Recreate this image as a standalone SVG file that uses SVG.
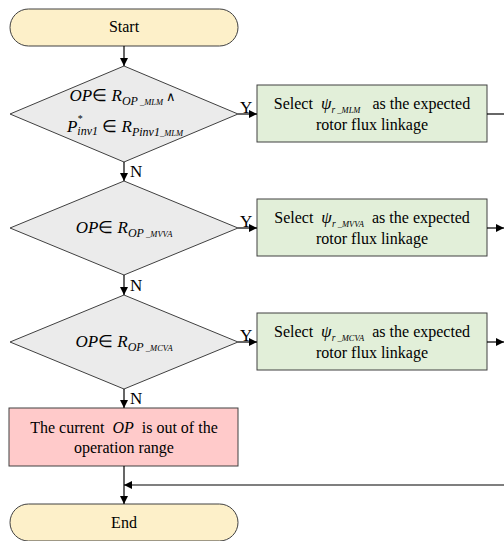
<svg xmlns="http://www.w3.org/2000/svg" width="504" height="541" viewBox="0 0 504 541">
<defs>
<style>
.t{font-family:"Liberation Serif","Times New Roman",serif;font-size:16px;fill:#000;text-anchor:middle}
.m{font-family:"Liberation Serif","Times New Roman",serif;font-size:17px;fill:#000;text-anchor:middle}
.i{font-style:italic}
.s{font-size:12px;font-style:italic}
.ss{font-size:8.5px;font-style:italic}
.sb{font-size:9.5px;font-style:italic}
.term{fill:#fdf0c9;stroke:#404040;stroke-width:1}
.dec{fill:#ebebeb;stroke:#404040;stroke-width:1}
.proc{fill:#e2efd9;stroke:#404040;stroke-width:1}
.err{fill:#ffcaca;stroke:#404040;stroke-width:1}
.c{fill:none;stroke:#000;stroke-width:1.2}
.lbl{font-family:"Liberation Serif","Times New Roman",serif;font-size:17px;fill:#000}
</style>
<marker id="ah" viewBox="0 0 10 10" refX="10" refY="5" markerWidth="8" markerHeight="8" markerUnits="userSpaceOnUse" orient="auto">
<path d="M0,0 L10,5 L0,10 z" fill="#000"/>
</marker>
</defs>

<g id="start">
<rect class="term" x="10" y="9" width="228" height="37" rx="18.5"/>
<text class="t" x="124" y="32">Start</text>
</g>

<g id="d1">
<polygon class="dec" points="124,66 238,114 124,162 10,114"/>
<text class="m" x="123" y="101"><tspan class="i">OP</tspan>∈ <tspan class="i">R</tspan><tspan class="s" dy="4">OP</tspan><tspan class="ss"> _MLM</tspan><tspan dy="-4" style="font-size:13px"> ∧</tspan></text>
<text class="m" x="125" y="132"><tspan class="i">P</tspan><tspan class="i" style="font-size:10px" dy="-10">*</tspan><tspan class="s" dy="13" dx="-5">inv1</tspan><tspan dy="-3"> ∈ </tspan><tspan class="i">R</tspan><tspan class="s" dy="4">Pinv1</tspan><tspan class="ss">_MLM</tspan></text>
</g>

<g id="p1">
<rect class="proc" x="257" y="85" width="230" height="57"/>
<text class="t" x="372" y="109">Select&#160;&#160;<tspan class="i" style="font-size:17px">ψ</tspan><tspan class="sb" dy="4">r</tspan><tspan class="ss"> _MLM</tspan><tspan dy="-4">&#160;&#160;&#160;as the expected</tspan></text>
<text class="t" x="372" y="130">rotor flux linkage</text>
</g>

<g id="d2">
<polygon class="dec" points="124,181 238,228 124,275 10,228"/>
<text class="m" x="124" y="233"><tspan class="i">OP</tspan>∈ <tspan class="i">R</tspan><tspan class="s" dy="4">OP</tspan><tspan class="ss"> _MVVA</tspan></text>
</g>

<g id="p2">
<rect class="proc" x="257" y="199" width="230" height="57"/>
<text class="t" x="372" y="223">Select&#160;&#160;<tspan class="i" style="font-size:17px">ψ</tspan><tspan class="sb" dy="4">r</tspan><tspan class="ss"> _MVVA</tspan><tspan dy="-4">&#160;&#160;as the expected</tspan></text>
<text class="t" x="372" y="244">rotor flux linkage</text>
</g>

<g id="d3">
<polygon class="dec" points="124,295 238,342 124,389 10,342"/>
<text class="m" x="124" y="347"><tspan class="i">OP</tspan>∈ <tspan class="i">R</tspan><tspan class="s" dy="4">OP</tspan><tspan class="ss"> _MCVA</tspan></text>
</g>

<g id="p3">
<rect class="proc" x="257" y="313" width="230" height="57"/>
<text class="t" x="372" y="337">Select&#160;&#160;<tspan class="i" style="font-size:17px">ψ</tspan><tspan class="sb" dy="4">r</tspan><tspan class="ss"> _MCVA</tspan><tspan dy="-4">&#160;&#160;as the expected</tspan></text>
<text class="t" x="372" y="358">rotor flux linkage</text>
</g>

<g id="err">
<rect class="err" x="9" y="408" width="229" height="58"/>
<text class="t" x="124" y="433">The current&#160; <tspan class="i">OP</tspan>&#160; is out of the</text>
<text class="t" x="124" y="453">operation range</text>
</g>

<g id="end">
<rect class="term" x="10" y="504" width="228" height="37" rx="18.5"/>
<text class="t" x="124" y="528">End</text>
</g>

<g id="connectors">
<line class="c" x1="124" y1="46" x2="124" y2="66" marker-end="url(#ah)"/>
<line class="c" x1="124" y1="162" x2="124" y2="181" marker-end="url(#ah)"/>
<line class="c" x1="124" y1="275" x2="124" y2="295" marker-end="url(#ah)"/>
<line class="c" x1="124" y1="389" x2="124" y2="408" marker-end="url(#ah)"/>
<line class="c" x1="124" y1="466" x2="124" y2="504" marker-end="url(#ah)"/>
<line class="c" x1="238" y1="114" x2="257" y2="114" marker-end="url(#ah)"/>
<line class="c" x1="238" y1="228" x2="257" y2="228" marker-end="url(#ah)"/>
<line class="c" x1="238" y1="342" x2="257" y2="342" marker-end="url(#ah)"/>
<line class="c" x1="487" y1="114" x2="510" y2="114"/>
<line class="c" x1="487" y1="228" x2="504" y2="228" marker-end="url(#ah)"/>
<line class="c" x1="487" y1="342" x2="504" y2="342" marker-end="url(#ah)"/>
<line class="c" x1="510" y1="485" x2="124" y2="485" marker-end="url(#ah)"/>
<text class="lbl" x="240" y="113">Y</text>
<text class="lbl" x="240" y="227">Y</text>
<text class="lbl" x="240" y="341">Y</text>
<text class="lbl" x="130" y="177">N</text>
<text class="lbl" x="130" y="291">N</text>
<text class="lbl" x="130" y="404">N</text>
</g>
</svg>
